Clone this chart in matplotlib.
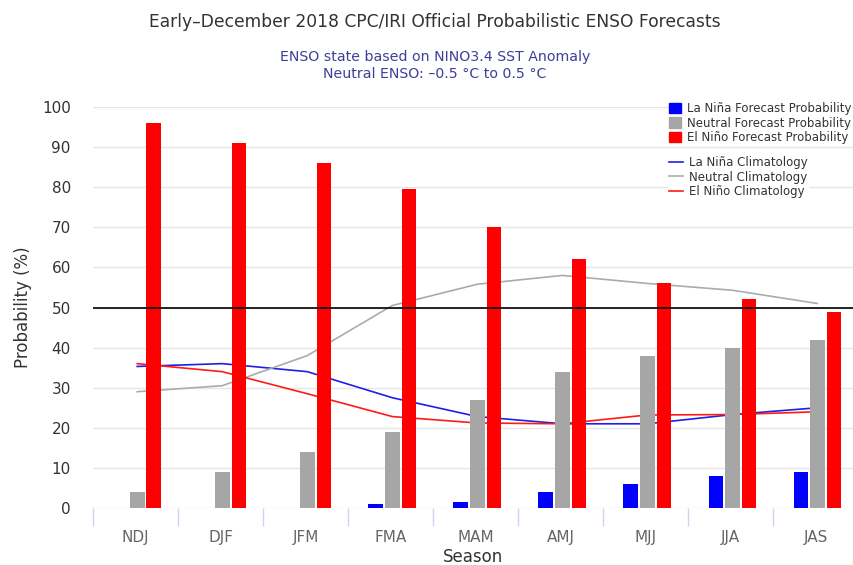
import matplotlib
matplotlib.use('Agg')
import matplotlib.pyplot as plt
import numpy as np
from matplotlib.patches import Patch
from matplotlib.lines import Line2D

seasons = ['NDJ', 'DJF', 'JFM', 'FMA', 'MAM', 'AMJ', 'MJJ', 'JJA', 'JAS']

# forecast probabilities (%)
lanina_fcst = [0, 0, 0, 1, 1.5, 4, 6, 8, 9]
neutral_fcst = [4, 9, 14, 19, 27, 34, 38, 40, 42]
elnino_fcst = [96, 91, 86, 79.5, 70, 62, 56, 52, 49]

# climatology (%)
lanina_clim = [35.3, 36, 34, 27.5, 22.8, 21, 21, 23.3, 25]
neutral_clim = [29, 30.5, 38, 50.5, 55.8, 58, 56, 54.3, 51]
elnino_clim = [36, 34, 28.5, 22.8, 21.2, 21, 23.2, 23.3, 24]

plt.rcParams['font.family'] = ['DejaVu Sans']

fig = plt.figure(figsize=(8.54, 5.65), dpi=100)
ax = fig.add_axes([93/854, 1-508/565, 1-93/854, (508-107)/565])

x = np.arange(len(seasons))
w = 0.172
off = 0.195
xc = x + 0.02

ax.plot(xc, lanina_clim, color='#1f1fe6', lw=1.2, zorder=2)
ax.plot(xc, neutral_clim, color='#ababab', lw=1.2, zorder=2)
ax.plot(xc, elnino_clim, color='#ff1a1a', lw=1.2, zorder=2)

ax.bar(xc - off, lanina_fcst, width=w, color='#0000ff', zorder=3)
ax.bar(xc, neutral_fcst, width=w, color='#a6a6a6', zorder=3)
ax.bar(xc + off, elnino_fcst, width=w, color='#ff0000', zorder=3)

ax.axhline(50, color='black', lw=1.2, zorder=4)

ax.set_xlim(-0.5, 8.45)
ax.set_ylim(0, 100)
ax.set_yticks(range(0, 101, 10))
ax.yaxis.grid(True, color='#e6e6e6', lw=1)
ax.set_axisbelow(True)
for s in ax.spines.values():
    s.set_visible(False)
ax.tick_params(axis='y', length=0, labelsize=11, labelcolor='#333333', pad=16)

ax.set_xticks(x)
ax.set_xticklabels(seasons)
ax.set_xticks(np.arange(-0.5, 8.5, 1), minor=True)
ax.tick_params(axis='x', which='major', length=0, labelsize=11,
               labelcolor='#666666', pad=16)
ax.tick_params(axis='x', which='minor', length=13, width=1, color='#ccd6eb')

ax.set_ylabel('Probability (%)', fontsize=12, color='#333333', labelpad=7)
ax.set_xlabel('Season', fontsize=12, color='#333333', labelpad=2)

fig.text(435/854, 1-22/565, 'Early\u2013December 2018 CPC/IRI Official Probabilistic ENSO Forecasts',
         ha='center', va='center', fontsize=12.3, color='#333333')
fig.text(435/854, 1-57/565, 'ENSO state based on NINO3.4 SST Anomaly',
         ha='center', va='center', fontsize=10.2, color='#3f3f99')
fig.text(435/854, 1-74/565, 'Neutral ENSO: \u20130.5 \u00b0C to 0.5 \u00b0C',
         ha='center', va='center', fontsize=10.2, color='#3f3f99')

bar_handles = [Patch(color='#0000ff', label='La Niña Forecast Probability'),
               Patch(color='#a6a6a6', label='Neutral Forecast Probability'),
               Patch(color='#ff0000', label='El Niño Forecast Probability')]
leg1 = fig.legend(handles=bar_handles, loc='upper left',
                  bbox_to_anchor=(662/854, 1-95/565), frameon=True,
                  facecolor='white', edgecolor='none', framealpha=1,
                  fontsize=8.5, handlelength=1.0, handleheight=1.0,
                  handletextpad=0.5, labelspacing=0.12, borderpad=0.1,
                  labelcolor='#333333')
line_handles = [Line2D([], [], color='#1f1fe6', lw=1.2, label='La Niña Climatology'),
                Line2D([], [], color='#ababab', lw=1.2, label='Neutral Climatology'),
                Line2D([], [], color='#ff1a1a', lw=1.2, label='El Niño Climatology')]
leg2 = fig.legend(handles=line_handles, loc='upper left',
                  bbox_to_anchor=(662/854, 1-149/565), frameon=True,
                  facecolor='white', edgecolor='none', framealpha=1,
                  fontsize=8.5, handlelength=1.2, handletextpad=0.5,
                  labelspacing=0.12, borderpad=0.1, labelcolor='#333333')

fig.savefig('out.png', dpi=100)
